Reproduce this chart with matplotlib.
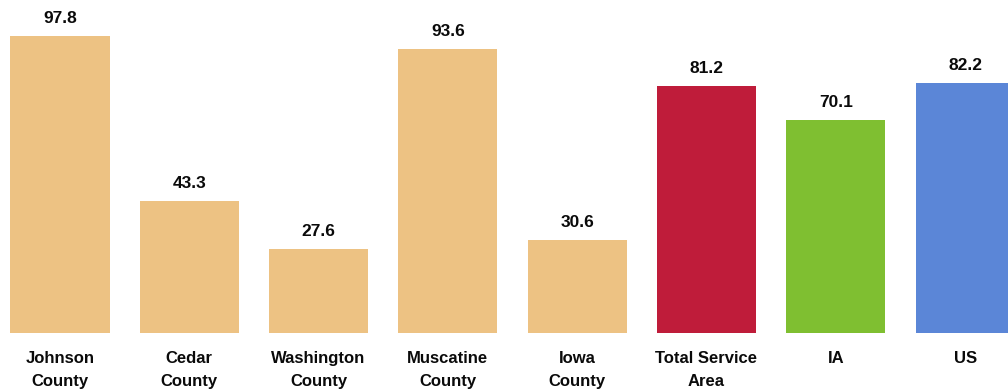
import matplotlib

matplotlib.use("Agg")

import matplotlib.pyplot as plt

categories = ["Johnson\nCounty", "Cedar\nCounty", "Washington\nCounty", "Muscatine\nCounty",
              "Iowa\nCounty", "Total Service\nArea", "IA", "US"]
values = [97.8, 43.3, 27.6, 93.6, 30.6, 81.2, 70.1, 82.2]
colors = ["#EDC283"] * 5 + ["#BF1C3A", "#7FBF31", "#5B86D7"]

plt.rcParams["font.family"] = ["Liberation Sans", "DejaVu Sans"]

fig = plt.figure(figsize=(10.08, 3.92), dpi=100)
ax = fig.add_axes([0, 0, 1, 1])

x = list(range(len(values)))
ax.bar(x, values, width=0.766, color=colors)

# value labels above the bars
for xi, v in zip(x, values):
    ax.text(xi, v + 3.3, f"{v:.1f}", ha="center", va="bottom",
            fontsize=12.5, fontweight="bold", color="#0a0a0a")

# category labels under the baseline
for xi, lab in zip(x, categories):
    ax.text(xi, -5.9, lab, ha="center", va="top", fontsize=12,
            fontweight="bold", color="#0a0a0a", linespacing=1.65)

ax.set_xlim(-0.464, 7.332)
ax.set_ylim(-19.43, 109.65)
ax.axis("off")

fig.savefig("out.png", dpi=100)
plt.close(fig)
